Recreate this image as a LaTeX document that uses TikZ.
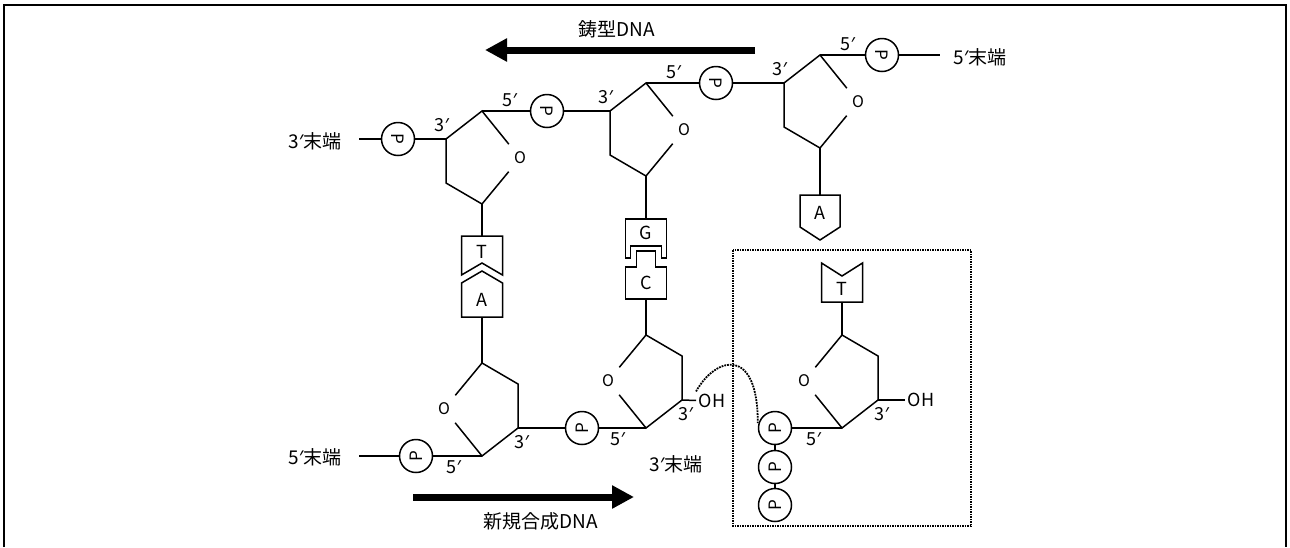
\documentclass[tikz,border=0pt]{standalone}
\usepackage{fontspec}
\setmainfont{Noto Sans CJK JP}
\newfontfamily\primefont{Noto Sans}
\newcommand\prm{{\primefont ′}}
\usetikzlibrary{arrows.meta}

\begin{document}
\begin{tikzpicture}[
    x=1pt, y=-1pt,
    line width=1.5pt,
    phos/.style={circle, draw, minimum size=33pt, inner sep=0pt, font=\fontsize{17}{17}\selectfont},
    ringO/.style={circle, minimum size=34pt, inner sep=0pt, font=\fontsize{16}{16}\selectfont},
    prime/.style={inner sep=0pt, font=\fontsize{18}{18}\selectfont},
    endlabel/.style={inner sep=1pt, font=\fontsize{19}{19}\selectfont},
    oh/.style={inner sep=2pt, font=\fontsize{18}{18}\selectfont},
    baselabel/.style={inner sep=0pt, font=\fontsize{18}{18}\selectfont},
    bigarrow/.style={line width=7pt, -{Triangle[length=22pt, width=22pt]}}
]
    \useasboundingbox (0,0) rectangle (1290,547);
    \draw[line width=2pt] (3.5,547) -- (3.5,5) -- (1286,5) -- (1286,547);

    % sugars: t = template strand, n = new strand (s=-1 turns the ring over)
    \foreach \x/\y/\s/\n in {446/139/1/t1, 610/111/1/t2, 784/83/1/t3,
                             518/428/-1/n1, 682/400/-1/n2, 878/400/-1/n3} {
        \coordinate (\n-c3) at (\x,\y);
        \coordinate (\n-c4) at ({\x+36*\s},{\y-28*\s});
        \coordinate (\n-c1) at ({\x+36*\s},{\y+65*\s});
        \coordinate (\n-c2) at (\x,{\y+44*\s});
        \node[ringO] (\n-o) at ({\x+74*\s},{\y+19*\s}) {O};
        \draw (\n-o) -- (\n-c1) -- (\n-c2) -- (\n-c3) -- (\n-c4) -- (\n-o);
        \node[prime] (\n-l3) at ({\x-4*\s},{\y-14*\s}) {3\prm};
        \node[prime] (\n-l5) at ({\x+64*\s},{\y-39*\s}) {5\prm};
    }

    % template strand backbone
    \node[endlabel] (t-end3) at (315,141) {3\prm 末端};
    \node[phos, rotate=-90] (t-p0) at (398,139) {P};
    \node[phos, rotate=-90] (t-p1) at (547,111) {P};
    \node[phos, rotate=-90] (t-p2) at (716,83) {P};
    \node[phos, rotate=-90] (t-p3) at (882,55) {P};
    \node[endlabel] (t-end5) at (980,57) {5\prm 末端};
    \coordinate (t-tail3) at (359,139);
    \coordinate (t-tail5) at (940,55);
    \draw (t-tail3) -- (t-p0) -- (t1-c3);
    \draw (t1-c4) -- (t-p1) -- (t2-c3);
    \draw (t2-c4) -- (t-p2) -- (t3-c3);
    \draw (t3-c4) -- (t-p3) -- (t-tail5);

    % new strand backbone
    \node[endlabel] (n-end5) at (315,457) {5\prm 末端};
    \node[phos, rotate=90] (n-p0) at (416,456) {P};
    \node[phos, rotate=90] (n-p1) at (582,428) {P};
    \node[oh] (n2-oh) at (712,401) {OH};
    \node[endlabel] (n-end3) at (676,464) {3\prm 末端};
    \coordinate (n-tail5) at (359,456);
    \draw (n-tail5) -- (n-p0) -- (n1-c4);
    \draw (n1-c3) -- (n-p1) -- (n2-c4);
    \draw (n2-c3) -- (n2-oh);

    % incoming nucleotide with three phosphates
    \node[phos, rotate=90] (pp1) at (775,428) {P};
    \node[phos, rotate=90] (pp2) at (775,467) {P};
    \node[phos, rotate=90] (pp3) at (775,505) {P};
    \node[oh] (n3-oh) at (921,400) {OH};
    \draw (pp3) -- (pp2) -- (pp1) -- (n3-c4);
    \draw (n3-c3) -- (n3-oh);
    \draw[densely dotted, line width=1.8pt, shorten >=5pt] (n2-oh.north west) .. controls (716,356) and (758,346) .. (pp1.north);
    \draw[densely dotted] (733,250) rectangle (971,526);

    % bases
    \draw (461.5,236) -- (502.5,236) -- (502.5,275) -- (482,263) -- (461.5,275) -- cycle;
    \node[baselabel] (t1-base) at (482,252) {T};
    \draw (461.5,283) -- (482,271) -- (502.5,283) -- (502.5,317) -- (461.5,317) -- cycle;
    \node[baselabel] (n1-base) at (482,300) {A};
    \draw (625.5,219) -- (666.5,219) -- (666.5,258) -- (661.5,258) -- (661.5,246)
        -- (630.5,246) -- (630.5,258) -- (625.5,258) -- cycle;
    \node[baselabel] (t2-base) at (646,233) {G};
    \draw (625.5,267) -- (636.5,267) -- (636.5,251) -- (655.5,251) -- (655.5,267)
        -- (666.5,267) -- (666.5,299) -- (625.5,299) -- cycle;
    \node[baselabel] (n2-base) at (646,283) {C};
    \draw (800,195) -- (840,195) -- (840,227) -- (820,240) -- (800,227) -- cycle;
    \node[baselabel] (t3-base) at (820,213) {A};
    \draw (821.5,263) -- (842,276) -- (862.5,263) -- (862.5,302) -- (821.5,302) -- cycle;
    \node[baselabel] (n3-base) at (842,289) {T};

    \coordinate (t1-b) at (482,236);
    \coordinate (n1-b) at (482,317);
    \coordinate (t2-b) at (646,219);
    \coordinate (n2-b) at (646,299);
    \coordinate (t3-b) at (820,195);
    \coordinate (n3-b) at (842,302);
    \draw (t1-c1) -- (t1-b);
    \draw (n1-c1) -- (n1-b);
    \draw (t2-c1) -- (t2-b);
    \draw (n2-c1) -- (n2-b);
    \draw (t3-c1) -- (t3-b);
    \draw (n3-c1) -- (n3-b);

    % strand directions
    \coordinate (tmpl-tail) at (755,50);
    \coordinate (tmpl-head) at (485,50);
    \draw[bigarrow] (tmpl-tail) -- (tmpl-head);
    \node[endlabel] (tmpl-label) at (617,29) {鋳型DNA};
    \coordinate (new-tail) at (413,497);
    \coordinate (new-head) at (634,497);
    \draw[bigarrow] (new-tail) -- (new-head);
    \node[endlabel] (new-label) at (541,521) {新規合成DNA};
\end{tikzpicture}
\end{document}
